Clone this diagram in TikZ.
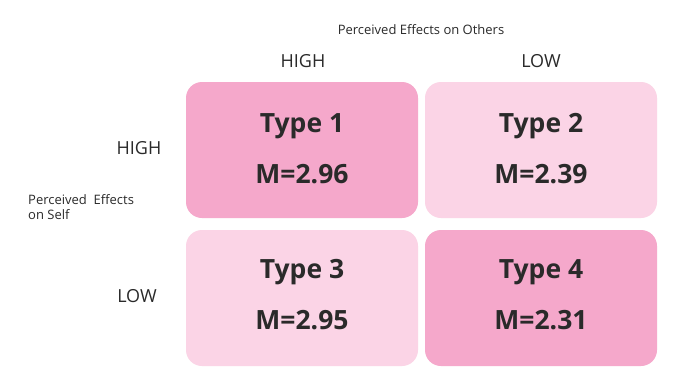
\documentclass[tikz,border=0pt]{standalone}
\usepackage{fontspec}
\setmainfont{Open Sans}
\definecolor{pdark}{HTML}{F5A8CB}
\definecolor{plight}{HTML}{FBD4E6}
\definecolor{txt}{HTML}{2A2A2A}
\begin{document}
\begin{tikzpicture}[x=1pt,y=-1pt,
  cell/.style={rounded corners=16pt,inner sep=0pt,minimum width=232pt,minimum height=136pt},
  big/.style={font=\fontsize{26.5}{30}\selectfont\bfseries,text=txt},
  lab/.style={font=\fontsize{18}{21}\selectfont,text=txt},
  small/.style={font=\fontsize{13}{15}\selectfont,text=txt}]
\useasboundingbox[fill=white] (0,0) rectangle (700,388);
\node[cell,fill=pdark] (c1) at (302,150) {};
\node[cell,fill=plight] (c2) at (541,150) {};
\node[cell,fill=plight] (c3) at (302,298) {};
\node[cell,fill=pdark] (c4) at (541,298) {};
\node[big] (t1) at (302,126) {Type 1};
\node[big] (m1) at (302,174) {M=2.96};
\node[big] (t2) at (541,126) {Type 2};
\node[big] (m2) at (541,174) {M=2.39};
\node[big] (t3) at (302,272) {Type 3};
\node[big] (m3) at (302,320) {M=2.95};
\node[big] (t4) at (541,272) {Type 4};
\node[big] (m4) at (541,320) {M=2.31};
\node[small] (top) at (421,30) {Perceived Effects on Others};
\node[lab] (h1) at (303,61) {HIGH};
\node[lab] (l1) at (541,61) {LOW};
\node[lab] (h2) at (139,148) {HIGH};
\node[lab] (l2) at (137,296) {LOW};
\node[small,align=left,anchor=west,inner sep=0pt] (side) at (28,207) {Perceived\ \ Effects\\on Self};
\end{tikzpicture}
\end{document}
